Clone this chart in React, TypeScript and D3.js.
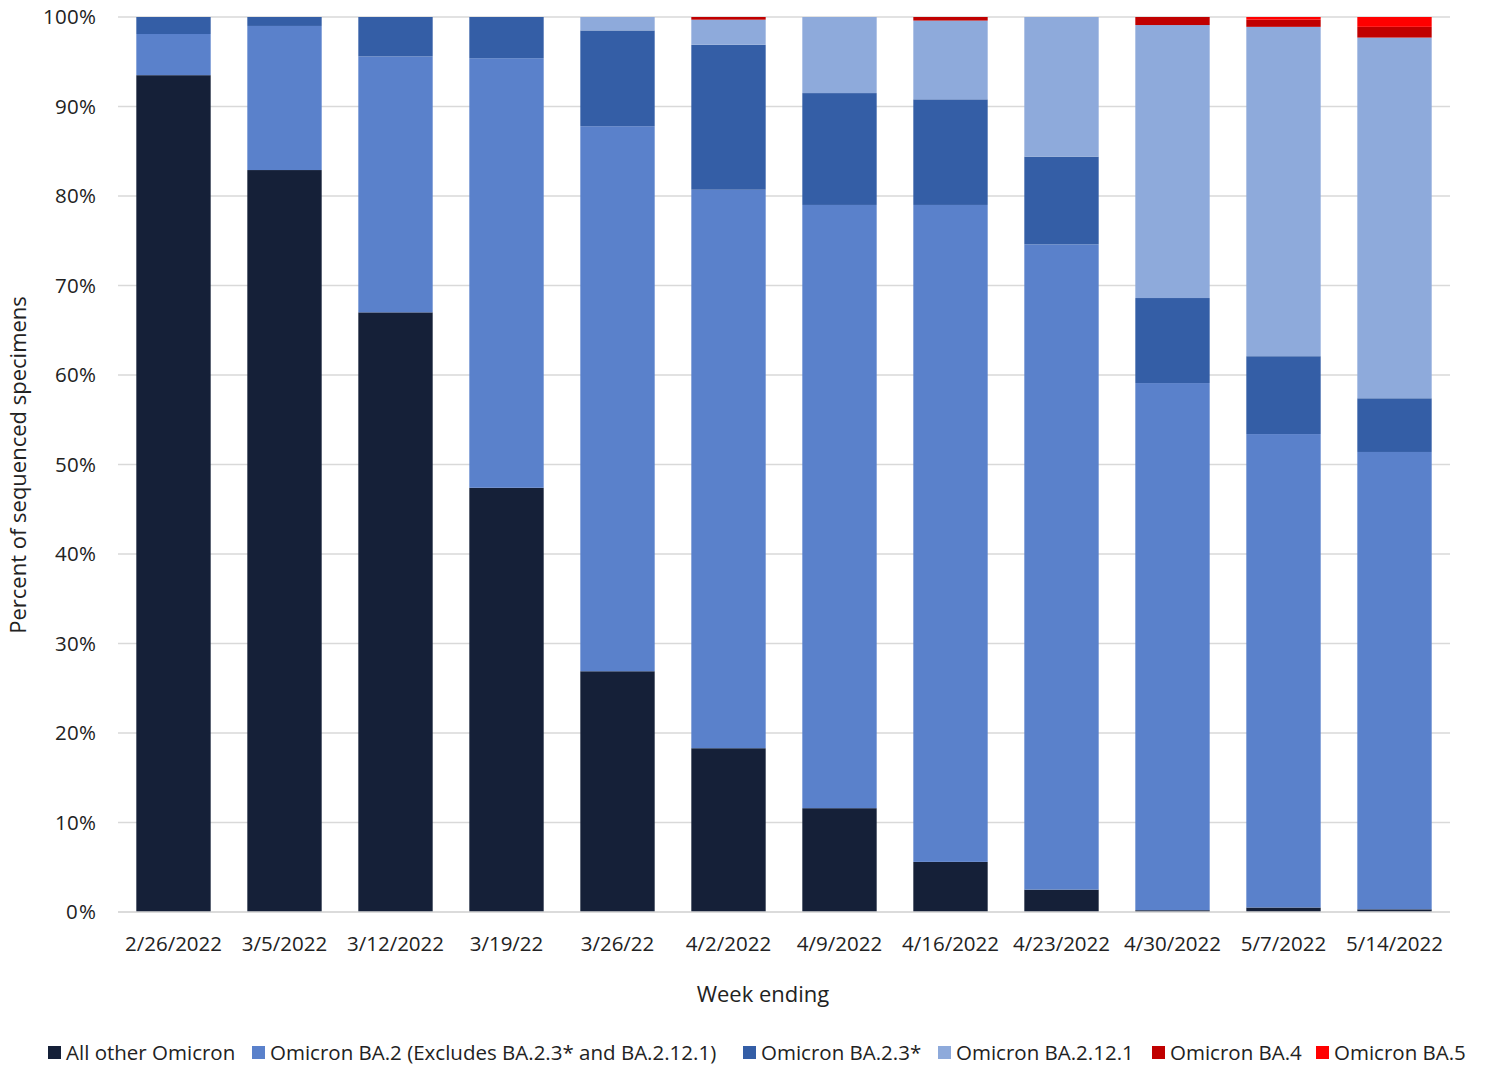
import * as d3 from 'd3';

const weeks = ['2/26/2022', '3/5/2022', '3/12/2022', '3/19/22', '3/26/22', '4/2/2022', '4/9/2022', '4/16/2022', '4/23/2022', '4/30/2022', '5/7/2022', '5/14/2022'];
const seriesNames = ['All other Omicron', 'Omicron BA.2 (Excludes BA.2.3* and BA.2.12.1)', 'Omicron BA.2.3*', 'Omicron BA.2.12.1', 'Omicron BA.4', 'Omicron BA.5'];
const colors = ['#152038', '#5a81cb', '#345ea6', '#8eaadb', '#c00000', '#ff0000'];

const otherOmicron = [93.5, 82.9, 67.0, 47.4, 26.9, 18.3, 11.6, 5.6, 2.5, 0.2, 0.5, 0.3];
const ba2 = [4.6, 16.1, 28.6, 48.0, 60.9, 62.4, 67.4, 73.4, 72.1, 58.9, 52.9, 51.1];
const ba23 = [1.9, 1.0, 4.4, 4.6, 10.7, 16.2, 12.5, 11.8, 9.8, 9.5, 8.7, 6.0];
const ba2121 = [0, 0, 0, 0, 1.5, 2.8, 8.5, 8.8, 15.6, 30.5, 36.8, 40.3];
const ba4 = [0, 0, 0, 0, 0, 0.3, 0, 0.4, 0, 0.9, 0.8, 1.2];
const ba5 = [0, 0, 0, 0, 0, 0, 0, 0, 0, 0, 0.3, 1.1];

const legendX = [48, 252, 743, 938, 1152, 1316];
const yTicks = [0, 10, 20, 30, 40, 50, 60, 70, 80, 90, 100];

export default function App() {
  const left = 118, right = 1450, top = 17, bottom = 912;
  const font = 'Open Sans, Liberation Sans, sans-serif';
  const fs = 20.5;
  const x = d3.scaleBand().domain(weeks).range([left, right]).paddingInner(0.33).paddingOuter(0.165);
  const y = d3.scaleLinear().domain([0, 100]).range([bottom, top]);
  const rows = weeks.map((w, i) => ({ w, s0: otherOmicron[i], s1: ba2[i], s2: ba23[i], s3: ba2121[i], s4: ba4[i], s5: ba5[i] }));
  const stack = d3.stack<any>().keys(['s0', 's1', 's2', 's3', 's4', 's5']).offset(d3.stackOffsetExpand)(rows);

  return (
    <svg width={1486} height={1065} style={{ position: 'absolute', left: 0, top: 0, background: '#fff' }} fontFamily={font}>
      {yTicks.map((t) => (
        <g key={t}>
          <line x1={left} x2={right} y1={y(t)} y2={y(t)} stroke="#d9d9d9" strokeWidth={1.3} />
          <text x={96} y={y(t) + 7} textAnchor="end" fontSize={fs} textLength={t === 100 ? 53 : t === 0 ? 30 : 41} fill="#222">{t}%</text>
        </g>
      ))}
      {stack.map((layer, si) => (
        <g key={si} fill={colors[si]}>
          {layer.map((d, i) => (
            <rect key={i} x={x(weeks[i])} width={x.bandwidth()} y={y(d[1] * 100)} height={Math.max(0, y(d[0] * 100) - y(d[1] * 100))} />
          ))}
        </g>
      ))}
      <line x1={left} x2={right} y1={bottom} y2={bottom} stroke="#d9d9d9" strokeWidth={1.3} />
      {weeks.map((w) => (
        <text key={w} x={x(w)! + x.bandwidth() / 2} y={951} textAnchor="middle" fontSize={fs} fill="#222">{w}</text>
      ))}
      <text x={763} y={1002} textAnchor="middle" fontSize={22} fill="#222">Week ending</text>
      <text transform="translate(26,465) rotate(-90)" textAnchor="middle" fontSize={22} fill="#222">Percent of sequenced specimens</text>
      {seriesNames.map((n, i) => (
        <g key={n}>
          <rect x={legendX[i]} y={1046} width={13} height={13} fill={colors[i]} />
          <text x={legendX[i] + 18} y={1060} fontSize={fs} fill="#222">{n}</text>
        </g>
      ))}
    </svg>
  );
}
